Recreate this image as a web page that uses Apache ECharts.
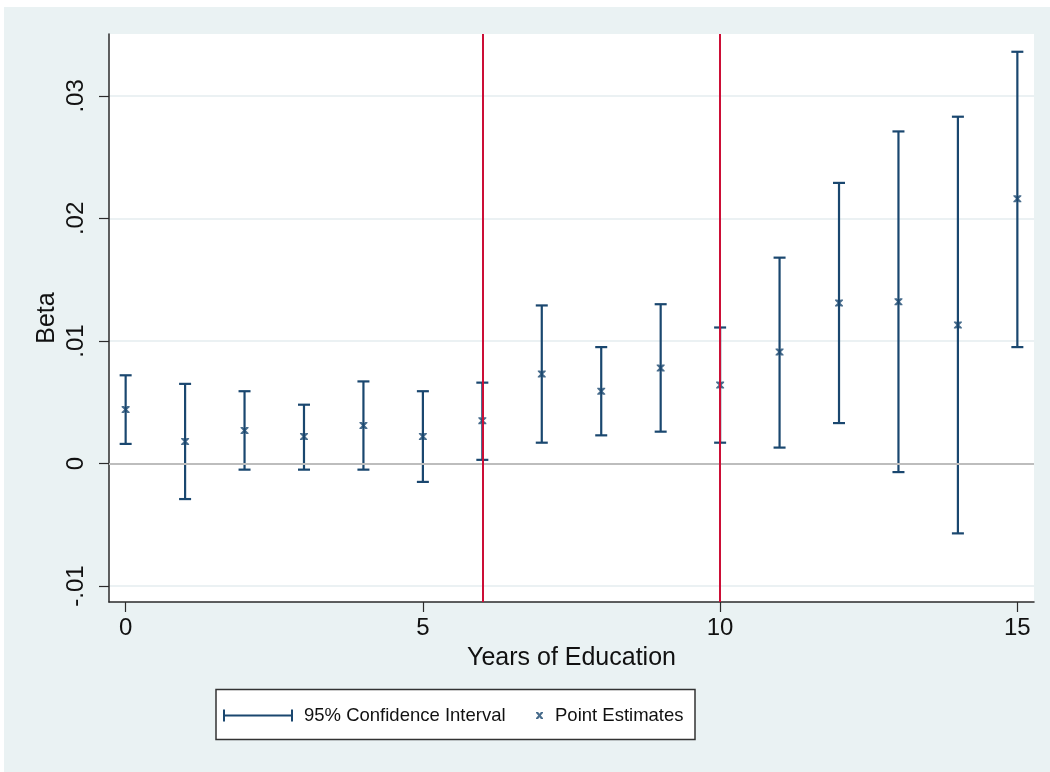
<!DOCTYPE html>
<html>
<head>
<meta charset="utf-8">
<script src="https://cdn.jsdelivr.net/npm/echarts@6/dist/echarts.min.js"></script>
<style>
html,body{margin:0;padding:0;background:#fff;}
#chart{width:1050px;height:772px;}
</style>
</head>
<body>
<div id="chart"></div>
<script>
// ---- data ----
const years = [0, 1, 2, 3, 4, 5, 6, 7, 8, 9, 10, 11, 12, 13, 14, 15];
const pointEstimates = [0.0044, 0.0018, 0.0027, 0.0022, 0.0031, 0.0022, 0.0035, 0.0073, 0.0059, 0.0078, 0.0064, 0.0091, 0.0131, 0.0132, 0.0113, 0.0216];
const ciLower = [0.0016, -0.0029, -0.0005, -0.0005, -0.0005, -0.0015, 0.0003, 0.0017, 0.0023, 0.0026, 0.0017, 0.0013, 0.0033, -0.0007, -0.0057, 0.0095];
const ciUpper = [0.0072, 0.0065, 0.0059, 0.0048, 0.0067, 0.0059, 0.0066, 0.0129, 0.0095, 0.0130, 0.0111, 0.0168, 0.0229, 0.0271, 0.0283, 0.0336];
const referenceYears = [6, 10];
const xTickStep = 5;
const yTickStep = 0.01;

const NAVY = '#1A476F';
const RED = '#CC0E36';
const FONT = 'Liberation Sans, Arial, sans-serif';
const XMARK = 'path://M0,0L3,0L5,2.5L7,0L10,0L10,1.5L6.8,5L10,8.5L10,10L7,10L5,7.5L3,10L0,10L0,8.5L3.2,5L0,1.5Z';
const EBAR_ICON = 'path://M0,0h2v12h-2zM0,5h70v2h-70zM68,0h2v12h-2z';

const ciData = years.map((x, i) => [x, ciLower[i], ciUpper[i]]);
const ptData = years.map((x, i) => [x, pointEstimates[i]]);

const chart = echarts.init(document.getElementById('chart'), null, {renderer: 'canvas'});

const option = {
  backgroundColor: '#ffffff',
  animation: false,
  graphic: [
    {type: 'rect', z: -10, silent: true, shape: {x: 4, y: 7, width: 1046, height: 765}, style: {fill: '#EAF2F3'}},
    {type: 'rect', z: -5, silent: true, shape: {x: 216, y: 689.5, width: 479, height: 50}, style: {fill: '#ffffff', stroke: '#333333', lineWidth: 1.5}}
  ],
  grid: {left: 109, top: 34, right: 16, bottom: 170, show: true, backgroundColor: '#ffffff', borderWidth: 0},
  xAxis: {
    type: 'value',
    min: -0.28, max: 15.28,
    minInterval: xTickStep, maxInterval: xTickStep,
    name: 'Years of Education',
    nameLocation: 'middle',
    nameGap: 44,
    nameTextStyle: {fontFamily: FONT, fontSize: 25, color: '#111'},
    axisLine: {show: true, onZero: false, lineStyle: {color: '#2b2b2b', width: 1.5}},
    axisTick: {show: true, length: 10, lineStyle: {color: '#2b2b2b', width: 1.2}},
    axisLabel: {fontFamily: FONT, fontSize: 24, color: '#111', margin: 14, showMinLabel: false, showMaxLabel: false},
    splitLine: {show: false}
  },
  yAxis: {
    type: 'value',
    min: -0.0113, max: 0.03505,
    minInterval: yTickStep, maxInterval: yTickStep,
    name: 'Beta',
    nameLocation: 'middle',
    nameGap: 49,
    nameMoveOverlap: false,
    nameRotate: 90,
    nameTextStyle: {fontFamily: FONT, fontSize: 25, color: '#111'},
    axisLine: {show: true, onZero: false, lineStyle: {color: '#2b2b2b', width: 1.5}},
    axisTick: {show: true, length: 10, lineStyle: {color: '#2b2b2b', width: 1.2}},
    axisLabel: {
      fontFamily: FONT, fontSize: 24, color: '#111', margin: 21, rotate: 90,
      showMinLabel: false, showMaxLabel: false,
      formatter: v => {
        if (Math.abs(v) < 1e-9) return '0';
        return (v < 0 ? '-' : '') + Math.abs(v).toFixed(2).replace(/^0/, '');
      }
    },
    splitLine: {show: true, showMinLine: false, showMaxLine: false, lineStyle: {color: '#E4ECEF', width: 1.6}}
  },
  legend: [
    {
      left: 218, top: 701, orient: 'horizontal',
      itemWidth: 70, itemHeight: 12,
      textStyle: {fontFamily: FONT, fontSize: 18.5, color: '#111', padding: [0, 0, 0, 6]},
      data: [{name: '95% Confidence Interval', icon: EBAR_ICON, itemStyle: {color: NAVY}}],
      selectedMode: false
    },
    {
      left: 531, top: 701, orient: 'horizontal',
      itemWidth: 7, itemHeight: 7,
      textStyle: {fontFamily: FONT, fontSize: 18.5, color: '#111', padding: [0, 0, 0, 7]},
      data: [{name: 'Point Estimates', icon: XMARK, itemStyle: {color: NAVY}}],
      selectedMode: false
    }
  ],
  series: [
    {
      name: 'refs', type: 'line', data: [], z: 1, silent: true,
      markLine: {
        silent: true, symbol: 'none', animation: false,
        label: {show: false},
        data: [
          {yAxis: 0, lineStyle: {color: '#BDBDBD', width: 2.2, type: 'solid'}},
          ...referenceYears.map(v => ({xAxis: v, lineStyle: {color: RED, width: 2, type: 'solid'}}))
        ]
      }
    },
    {
      name: '95% Confidence Interval', type: 'custom', z: 3,
      data: ciData,
      encode: {x: 0, y: [1, 2]},
      renderItem: (params, api) => {
        const x = api.value(0);
        const lo = api.coord([x, api.value(1)]);
        const hi = api.coord([x, api.value(2)]);
        const hw = 6;
        const st = {stroke: NAVY, lineWidth: 2.2, fill: null};
        return {
          type: 'group',
          children: [
            {type: 'line', shape: {x1: lo[0], y1: lo[1], x2: hi[0], y2: hi[1]}, style: st},
            {type: 'line', shape: {x1: lo[0] - hw, y1: lo[1], x2: lo[0] + hw, y2: lo[1]}, style: st},
            {type: 'line', shape: {x1: hi[0] - hw, y1: hi[1], x2: hi[0] + hw, y2: hi[1]}, style: st}
          ]
        };
      }
    },
    {
      name: 'Point Estimates', type: 'scatter', z: 4,
      data: ptData,
      symbol: XMARK, symbolSize: [8, 7],
      itemStyle: {color: NAVY}
    }
  ]
};
chart.setOption(option);
</script>
</body>
</html>
